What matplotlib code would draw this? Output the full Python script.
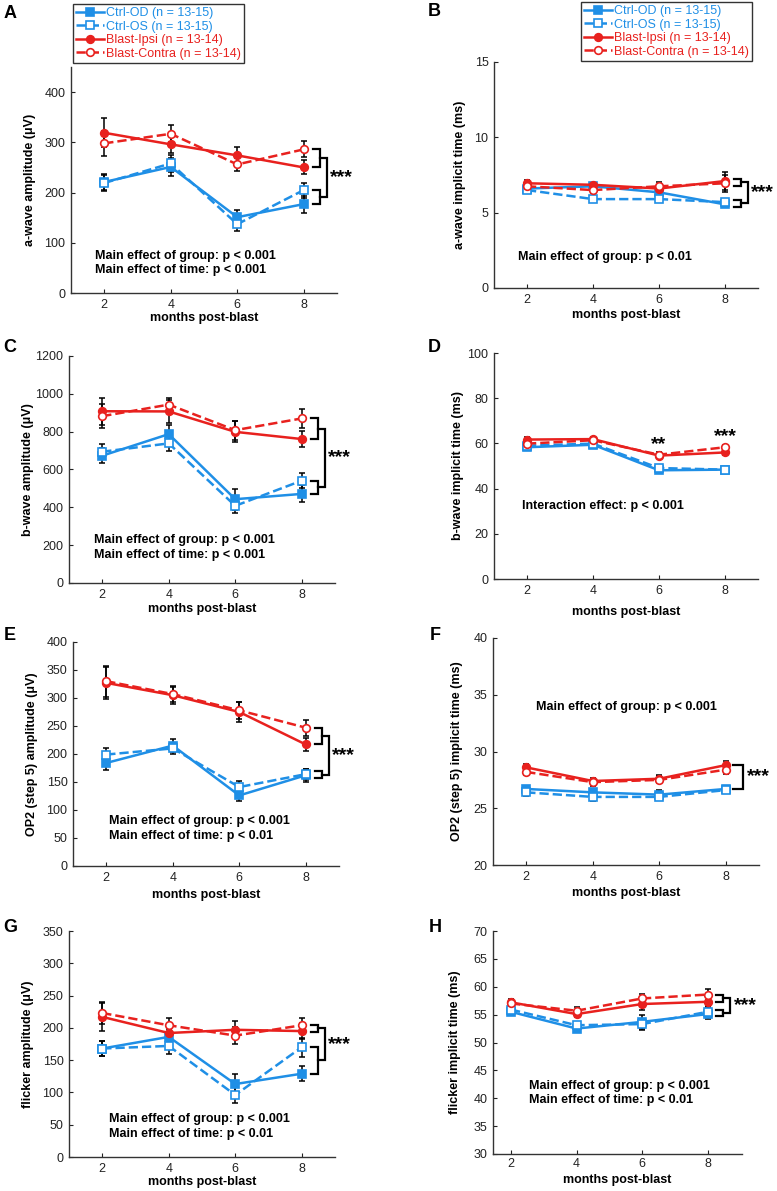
import matplotlib
matplotlib.use("Agg")
import matplotlib.pyplot as plt

plt.rcParams['font.family'] = ['Liberation Sans', 'DejaVu Sans']

W, H = 777, 1191

months = [2, 4, 6, 8]

series_labels = ['Ctrl-OD (n = 13-15)', 'Ctrl-OS (n = 13-15)',
                 'Blast-Ipsi (n = 13-14)', 'Blast-Contra (n = 13-14)']

# each panel: [Ctrl-OD, Ctrl-OS, Blast-Ipsi, Blast-Contra]
awave_amp = [[221, 251, 151, 177], [219, 258, 137, 205],
             [319, 296, 274, 250], [298, 317, 256, 286]]
awave_amp_sem = [[16, 18, 15, 17], [15, 17, 13, 15],
                 [29, 18, 17, 14], [25, 17, 13, 16]]

awave_time = [[6.6, 6.75, 6.35, 5.55], [6.5, 5.9, 5.9, 5.7],
              [6.95, 6.85, 6.6, 7.1], [6.75, 6.5, 6.75, 6.95]]
awave_time_sem = [[0.15, 0.1, 0.15, 0.1], [0.15, 0.15, 0.2, 0.1],
                  [0.2, 0.15, 0.2, 0.6], [0.2, 0.2, 0.3, 0.55]]

bwave_amp = [[673, 787, 443, 471], [694, 738, 408, 541],
             [908, 907, 799, 761], [882, 943, 808, 870]]
bwave_amp_sem = [[40, 47, 55, 45], [40, 40, 40, 40],
                 [72, 60, 55, 40], [65, 35, 50, 52]]

bwave_time = [[58.3, 59.4, 48.1, 48.4], [59.0, 59.9, 49.1, 48.4],
              [61.7, 61.9, 54.6, 56.0], [59.9, 61.4, 55.0, 58.3]]
bwave_time_sem = [[1.0, 1.0, 1.2, 0.8], [1.0, 1.0, 1.0, 0.8],
                  [1.2, 1.0, 1.2, 1.0], [1.2, 1.0, 1.0, 1.0]]

op2_amp = [[184, 215, 126, 162], [199, 210, 141, 164],
           [327, 305, 275, 217], [330, 307, 278, 247]]
op2_amp_sem = [[12, 12, 10, 12], [12, 10, 10, 10],
               [28, 15, 18, 12], [28, 15, 15, 14]]

op2_time = [[26.7, 26.4, 26.2, 26.7], [26.4, 26.0, 26.0, 26.6],
            [28.6, 27.4, 27.6, 28.8], [28.2, 27.3, 27.5, 28.4]]
op2_time_sem = [[0.3, 0.3, 0.4, 0.2], [0.3, 0.4, 0.3, 0.2],
                [0.3, 0.3, 0.3, 0.4], [0.3, 0.3, 0.3, 0.4]]

flicker_amp = [[168, 186, 113, 129], [168, 172, 96, 170],
               [217, 192, 197, 195], [223, 204, 188, 204]]
flicker_amp_sem = [[12, 12, 15, 12], [12, 12, 13, 15],
                   [22, 12, 13, 12], [17, 12, 13, 12]]

flicker_time = [[55.5, 52.5, 53.7, 55.1], [55.9, 53.1, 53.3, 55.5],
                [57.2, 55.1, 56.9, 57.3], [57.0, 55.7, 57.9, 58.6]]
flicker_time_sem = [[0.6, 0.6, 1.2, 0.8], [0.6, 0.6, 1.0, 0.8],
                    [0.6, 0.6, 1.0, 0.8], [0.6, 0.6, 0.8, 1.0]]

BLUE = '#1f8fe6'
RED = '#e8211e'
styles = [(BLUE, '-', 's', True), (BLUE, '--', 's', False),
          (RED, '-', 'o', True), (RED, '--', 'o', False)]


def make_ax(left, right, top, bottom):
    return fig.add_axes([left / W, 1 - bottom / H, (right - left) / W, (bottom - top) / H])


def draw(ax, means, sems, xlim, ylim, yticks, ylabel, ylab_x, xlab_y, box):
    for m, e in zip(means, sems):
        ax.errorbar(months, m, yerr=e, fmt='none', ecolor='black',
                    elinewidth=1.1, capsize=2, capthick=1.1, zorder=2)
    for (col, ls, mk, filled), m, lab in zip(styles, means, series_labels):
        ax.plot(months, m, color=col, ls=ls, marker=mk, ms=5.5,
                mfc=col if filled else 'white', mec=col, mew=1.2, lw=1.8,
                label=lab, zorder=3)
    ax.set_xlim(*xlim)
    ax.set_ylim(*ylim)
    ax.set_xticks(months)
    ax.set_yticks(yticks)
    for s in ['top', 'right']:
        ax.spines[s].set_visible(False)
    for s in ['left', 'bottom']:
        ax.spines[s].set_color('#333333')
        ax.spines[s].set_linewidth(1.0)
    ax.tick_params(direction='in', length=3, labelsize=9, colors='#222222', pad=4)
    ax.set_ylabel(ylabel, fontsize=9, fontweight='bold', va='center')
    ax.set_xlabel('months post-blast', fontsize=9, fontweight='bold', va='center')
    l, r, t, b = box
    ax.yaxis.set_label_coords((ylab_x - l) / (r - l), 0.5)
    ax.xaxis.set_label_coords(0.5, -(xlab_y - b) / (b - t))


def stats_text(ax, x, y, txt):
    ax.text(x, y, txt, transform=ax.transAxes, fontsize=9, fontweight='bold',
            ha='left', va='center', linespacing=1.25)


def brackets(ax, means, rng):
    x = months[-1]

    def span(v):
        lo, hi = min(v), max(v)
        if hi - lo < 0.03 * rng:
            mid = (hi + lo) / 2
            lo, hi = mid - 0.015 * rng, mid + 0.015 * rng
        return lo, hi

    x0, x1, x2 = x + 0.27, x + 0.48, x + 0.69
    mids = []
    for grp in ([means[2][-1], means[3][-1]], [means[0][-1], means[1][-1]]):
        lo, hi = span(grp)
        ax.plot([x0, x1, x1, x0], [hi, hi, lo, lo], color='black', lw=1.6,
                clip_on=False, solid_joinstyle='miter')
        mids.append((lo + hi) / 2)
    ax.plot([x1, x2, x2, x1], [mids[0], mids[0], mids[1], mids[1]], color='black',
            lw=1.6, clip_on=False, solid_joinstyle='miter')
    ax.text(x2 + 0.1, (mids[0] + mids[1]) / 2, '***', fontsize=14, fontweight='bold',
            ha='left', va='center', clip_on=False)


def single_bracket(ax, means):
    x = months[-1]
    hi = max(means[2][-1], means[3][-1])
    lo = max(means[0][-1], means[1][-1])
    x0, x1 = x + 0.22, x + 0.52
    ax.plot([x0, x1, x1, x0], [hi, hi, lo, lo], color='black', lw=1.6,
            clip_on=False, solid_joinstyle='miter')
    ax.text(x1 + 0.12, (hi + lo) / 2, '***', fontsize=14, fontweight='bold',
            ha='left', va='center', clip_on=False)


fig = plt.figure(figsize=(W / 100, H / 100), dpi=100)

boxes = {
    'A': (71, 337, 67, 293), 'B': (494, 758, 62, 288),
    'C': (69, 335, 356, 583), 'D': (494, 758, 353, 579),
    'E': (73, 339, 642, 866), 'F': (493, 759, 638, 865),
    'G': (69, 335, 931, 1157), 'H': (493, 742, 931, 1154),
}
axs = {k: make_ax(*v) for k, v in boxes.items()}

draw(axs['A'], awave_amp, awave_amp_sem, (1, 9), (0, 450), [0, 100, 200, 300, 400],
     'a-wave amplitude (\u03bcV)', 30, 318, boxes['A'])
brackets(axs['A'], awave_amp, 450)
stats_text(axs['A'], 0.09, 0.132, 'Main effect of group: p < 0.001\nMain effect of time: p < 0.001')

draw(axs['B'], awave_time, awave_time_sem, (1, 9), (0, 15), [0, 5, 10, 15],
     'a-wave implicit time (ms)', 460, 315, boxes['B'])
brackets(axs['B'], awave_time, 15)
stats_text(axs['B'], 0.09, 0.137, 'Main effect of group: p < 0.01')

draw(axs['C'], bwave_amp, bwave_amp_sem, (1, 9), (0, 1200), [0, 200, 400, 600, 800, 1000, 1200],
     'b-wave amplitude (\u03bcV)', 28, 609, boxes['C'])
brackets(axs['C'], bwave_amp, 1200)
stats_text(axs['C'], 0.094, 0.156, 'Main effect of group: p < 0.001\nMain effect of time: p < 0.001')

draw(axs['D'], bwave_time, bwave_time_sem, (1, 9), (0, 100), [0, 20, 40, 60, 80, 100],
     'b-wave implicit time (ms)', 458, 612, boxes['D'])
stats_text(axs['D'], 0.106, 0.323, 'Interaction effect: p < 0.001')
for i, stars in [(2, '**'), (3, '***')]:
    top = max(bwave_time[2][i], bwave_time[3][i])
    axs['D'].text(months[i], top + 4.5, stars, fontsize=14, fontweight='bold',
                  ha='center', va='center')

draw(axs['E'], op2_amp, op2_amp_sem, (1, 9), (0, 400), list(range(0, 401, 50)),
     'OP2 (step 5) amplitude (\u03bcV)', 32, 895, boxes['E'])
brackets(axs['E'], op2_amp, 400)
stats_text(axs['E'], 0.135, 0.167, 'Main effect of group: p < 0.001\nMain effect of time: p < 0.01')

draw(axs['F'], op2_time, op2_time_sem, (1, 9), (20, 40), [20, 25, 30, 35, 40],
     'OP2 (step 5) implicit time (ms)', 457, 893, boxes['F'])
single_bracket(axs['F'], op2_time)
stats_text(axs['F'], 0.162, 0.696, 'Main effect of group: p < 0.001')

draw(axs['G'], flicker_amp, flicker_amp_sem, (1, 9), (0, 350), list(range(0, 351, 50)),
     'flicker amplitude (\u03bcV)', 28, 1182, boxes['G'])
brackets(axs['G'], flicker_amp, 350)
stats_text(axs['G'], 0.15, 0.135, 'Main effect of group: p < 0.001\nMain effect of time: p < 0.01')

draw(axs['H'], flicker_time, flicker_time_sem, (1.45, 9.05), (30, 70), list(range(30, 71, 5)),
     'flicker implicit time (ms)', 455, 1180, boxes['H'])
axs['H'].tick_params(axis='x', pad=3)
brackets(axs['H'], flicker_time, 40)
stats_text(axs['H'], 0.145, 0.274, 'Main effect of group: p < 0.001\nMain effect of time: p < 0.01')

# panel letters
letters = {'A': (10, 14), 'B': (434, 12), 'C': (10, 347), 'D': (434, 347),
           'E': (10, 636), 'F': (435, 636), 'G': (10, 927), 'H': (435, 927)}
for k, (px, py) in letters.items():
    fig.text(px / W, 1 - py / H, k, fontsize=13, fontweight='bold', ha='center', va='center')

# legends
for k, (lx, ly) in {'A': (73, 4), 'B': (581, 2)}.items():
    handles, labels = axs[k].get_legend_handles_labels()
    leg = fig.legend(handles, labels, loc='upper left', bbox_to_anchor=(lx / W, 1 - ly / H),
                     fontsize=9, frameon=True, fancybox=False, edgecolor='#333333',
                     handlelength=2.2, handletextpad=0.15, labelspacing=0.12,
                     borderpad=0.25, borderaxespad=0, framealpha=1)
    leg.get_frame().set_linewidth(1.0)
    for t, st in zip(leg.get_texts(), styles):
        t.set_color(st[0])

fig.savefig('out.png', dpi=100)
